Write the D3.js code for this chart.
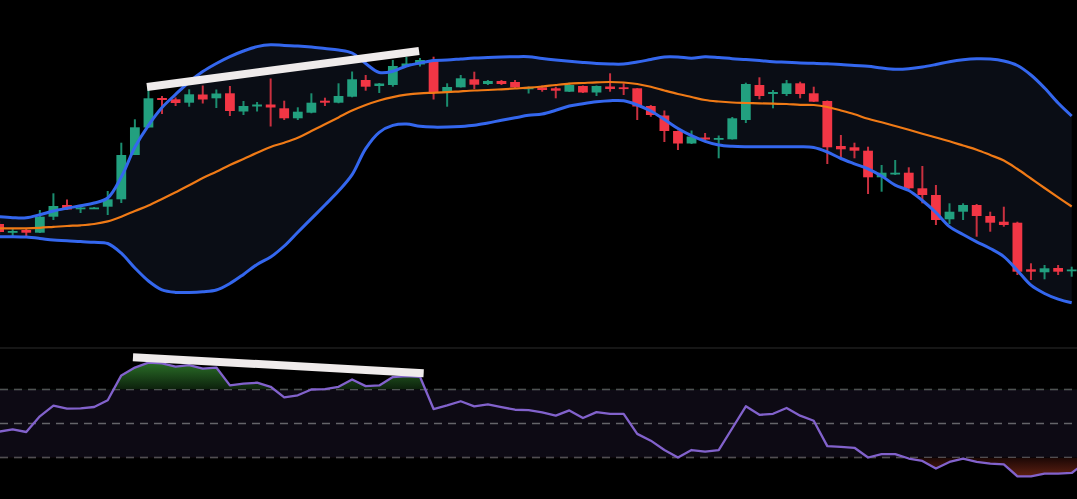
<!DOCTYPE html>
<html><head><meta charset="utf-8">
<script src="https://cdn.jsdelivr.net/npm/d3@7/dist/d3.min.js"></script>
<style>html,body{margin:0;padding:0;background:#000;overflow:hidden}svg{display:block}</style>
</head><body><svg id="c" width="1077" height="499"></svg>
<script>
// ---- Candles (price units) ----
const opens  = [76,68,70,67.3,83.3,95,90.7,91.3,93.3,100.7,145,172.5,202,200.7,197.3,205.5,201.7,206.7,188.5,193.5,195.5,191.7,181.7,187.3,199.3,197.3,203.3,220,214,215,234,235.5,240,207.3,212.7,220.7,216,219,218,211.5,212.7,211.7,208.3,214,207.5,213.5,212.7,211.7,194,184.5,169,156.5,162.5,160.5,160.7,180,215,206,206,216.7,206.7,199,154,152.7,149.3,122.7,126,127.3,111.7,105,80.7,88.3,95,84,78.3,77.3,30.7,27.7,32,29];
const highs  = [79,71,71,90,106.7,100.5,94,93,109,157.3,180.7,216,204,202.5,210.7,214.5,210.5,214,199,198,221.5,199.3,192.7,206.7,202.3,216.7,228.5,225,217,240,243,242,243.3,216.7,225,228.3,220,220,220,213.5,214.5,213.3,217.3,214.5,214.5,226.7,216.7,212,195,189.5,169.5,169.5,167,164.5,183,217.3,222.7,210,220,218.3,213.3,199.5,165,157.3,153.3,135,140,132.7,134,115,96.7,96.7,96,88.3,93.3,78.3,36.7,35,35,33.3];
const lows   = [66,63,63,67,80,90,87,91,85,97,145,172,186,194,193.3,196.5,192,184,185,188.5,173.5,180,180,186.7,194,196.7,202.7,209.3,207,213.3,233.5,233.5,200.5,193.3,212.5,211,215,215,212,206.5,208.3,201.7,208,207,204,208.3,205,180,183.3,158,150,156,159.5,141.7,160.5,177,200.7,191.7,204,201.7,198,136,141.7,141.7,106,108.3,125,111,96.7,75,76,80,63.3,68.3,73.3,25,20,20.7,25,23.3];
const closes = [68,69,67.3,83.3,94,90.5,92.5,92.5,100.7,145,172.7,201.7,200,197,205.7,200.5,206.5,189,194,195.5,192.5,181.7,188.3,197.3,197.3,204,220.7,213.3,216.5,234,236.5,240,207.3,213,221.7,215.3,219,216,212.5,212.5,210,209.3,215,207.5,214,211,211.7,193.5,185,169,156.5,163.5,160.5,162,181.7,216,204,208,216.7,206,198.3,152.7,150.7,149.3,122.7,127.3,127.3,111.7,105,80,88.3,95,84,77.3,75,28.3,28.3,31.7,28.3,30.5];

// ---- Bollinger bands (price units) ----
const bbUpper = [83.3,82.3,82.2,85.3,89,91.8,94.3,97,102,123,152.7,174.7,192.5,205.6,218,228.4,236.5,243.4,249,253.4,255.3,254.5,254,253,251.5,250,247,236.5,227.5,228.7,234,237,239.5,240,241,242,242.5,243,243.3,243.3,241.5,240,238.7,237.5,236.5,236,236,238,240.5,243,243,241.8,243.3,242.5,241.3,240.5,239.5,238.3,237.7,237,236.7,236.3,235.5,234.5,233.8,232,230.8,231.3,233,235.5,238.3,240.3,241.3,241,239,234.5,225,212,197,184];
const bbBasis = [71.7,71.7,71.7,72.2,73.1,74,74.7,76,78.6,83.3,89,94.4,101,107.8,114.7,122,128.2,135,141,147.2,153,157.3,162.3,169,175.8,182.6,189.4,195,199.5,202.9,205.3,206.7,207.2,207.8,208.7,209.5,210,210.7,211.5,212.3,213.5,215,216.3,217,217.7,218,217.5,216,213.2,209.5,206,203,200,198.5,197.5,197,196.6,196.3,196,195.2,195,193,189.5,185.7,181.2,177.7,174,170.2,166.3,162.5,158.7,154.5,150.3,145,139.5,131,121.5,112,102.7,93.5];
const bbLower = [63.3,63.3,62.9,61.6,59.9,59.3,58.4,57.7,56.5,46.8,32,19,10.1,7.6,7.6,8.3,10,16.5,25.6,35.6,43,54,67.8,81.4,95,108.9,125.3,151.4,167.7,174.6,176,173.7,172.9,173,173.6,174.8,177.1,179.7,182.2,184.7,186,189.7,194,196.3,198.2,199.3,199.2,195,189,180.5,171.5,164.3,158.7,155,153.7,153.3,153.3,153.3,153.3,153.3,152.5,148,141.5,136.2,131.2,124,114.8,109.5,99.5,87.5,73.4,65.5,58.2,51.5,43.4,29.5,14.8,6.5,0.8,-2.8];

// ---- RSI ----
const rsi = [45.2,46.6,45.0,54.2,60.5,58.7,58.9,59.7,63.7,78.3,82.9,85.8,85.4,83.5,84.3,82.3,82.9,72.4,73.4,74.0,71.6,65.4,66.6,70.0,70.2,71.6,75.9,72.0,72.4,77.3,77.9,77.5,58.5,60.7,63.1,60.1,61.3,59.7,58.1,57.9,56.5,54.6,57.7,53.2,56.7,55.7,55.7,43.9,39.9,34.4,30.0,34.4,33.4,34.4,47.2,60.1,55.1,55.7,59.1,54.6,51.6,36.7,36.3,35.7,30.0,32.0,32.0,29.4,28.0,23.5,27.4,29.4,27.4,26.4,26.0,18.9,18.9,20.5,20.5,20.9,27];
const rsiLevels = [70,50,30];

// ---- Drawn trend lines (candle index, value) ----
const priceTrendIdx = [10.89,30.93];
const priceTrendVal = [213,249];
const rsiTrendIdx = [9.86,31.27];
const rsiTrendVal = [89,79.6];

const W = 1077, H = 499;
const n = opens.length;
const x = d3.scaleLinear().domain([0, n-1]).range([-0.9, 1071.7]);
const step = x(1) - x(0);
const bodyW = step * 0.72;
const y = d3.scaleLinear().domain([0,300]).range([300,0]);
const ry = d3.scaleLinear().domain([30,70]).range([457.5,389.5]);

const svg = d3.select('#c');
svg.append('rect').attr('width',W).attr('height',H).attr('fill','#000');
const defs = svg.append('defs');
defs.append('clipPath').attr('id','mainClip').append('rect').attr('x',0).attr('y',0).attr('width',W).attr('height',346);
defs.append('clipPath').attr('id','rsiClip').append('rect').attr('x',0).attr('y',349).attr('width',W).attr('height',H-349);
defs.append('clipPath').attr('id','obClip').append('rect').attr('x',0).attr('y',0).attr('width',W).attr('height',ry(70));
defs.append('clipPath').attr('id','osClip').append('rect').attr('x',0).attr('y',ry(30)).attr('width',W).attr('height',H-ry(30));
const gG = defs.append('linearGradient').attr('id','gOB').attr('gradientUnits','userSpaceOnUse')
  .attr('x1',0).attr('x2',0).attr('y1',ry(88)).attr('y2',ry(70));
gG.append('stop').attr('offset',0).attr('stop-color','#2f7a2c');
gG.append('stop').attr('offset',1).attr('stop-color','#0c200c');
const gR = defs.append('linearGradient').attr('id','gOS').attr('gradientUnits','userSpaceOnUse')
  .attr('x1',0).attr('x2',0).attr('y1',ry(30)).attr('y2',ry(17));
gR.append('stop').attr('offset',0).attr('stop-color','#1a0705');
gR.append('stop').attr('offset',1).attr('stop-color','#6a2414');

const idx = d3.range(n);
const main = svg.append('g').attr('clip-path','url(#mainClip)');

// band fill
main.append('path').datum(idx)
  .attr('d', d3.area().x(i=>x(i)).y0(i=>y(bbLower[i])).y1(i=>y(bbUpper[i])).curve(d3.curveCatmullRom.alpha(0.5)))
  .attr('fill','#0a0d15');

// candles
const up = '#22a07f', dn = '#f23645';
const cg = main.append('g');
cg.selectAll('line.wick').data(idx).join('line').attr('class','wick')
  .attr('x1',i=>x(i)).attr('x2',i=>x(i))
  .attr('y1',i=>y(highs[i])).attr('y2',i=>y(lows[i]))
  .attr('stroke',i=>closes[i]>=opens[i]?'#1b8d6f':'#c9303f').attr('stroke-width',2);
cg.selectAll('rect.body').data(idx).join('rect').attr('class','body')
  .attr('x',i=>x(i)-bodyW/2).attr('width',bodyW)
  .attr('y',i=>y(Math.max(opens[i],closes[i])))
  .attr('height',i=>Math.max(1.8, Math.abs(y(opens[i])-y(closes[i]))))
  .attr('fill',i=>closes[i]>=opens[i]?up:dn);

// band lines
const ln = arr => d3.line().x(i=>x(i)).y(i=>y(arr[i])).curve(d3.curveCatmullRom.alpha(0.5));
main.append('path').datum(idx).attr('d',ln(bbBasis)).attr('fill','none').attr('stroke','#f07a16').attr('stroke-width',2.2);
main.append('path').datum(idx).attr('d',ln(bbUpper)).attr('fill','none').attr('stroke','#3467ee').attr('stroke-width',3);
main.append('path').datum(idx).attr('d',ln(bbLower)).attr('fill','none').attr('stroke','#3467ee').attr('stroke-width',3);

// trend line
main.append('line')
  .attr('x1',x(priceTrendIdx[0])).attr('y1',y(priceTrendVal[0]))
  .attr('x2',x(priceTrendIdx[1])).attr('y2',y(priceTrendVal[1]))
  .attr('stroke','#efebeb').attr('stroke-width',8);

// separator
svg.append('line').attr('x1',0).attr('x2',W).attr('y1',348).attr('y2',348).attr('stroke','#1e1e1e').attr('stroke-width',1.5);

// RSI panel
const rg = svg.append('g').attr('clip-path','url(#rsiClip)');
rg.append('rect').attr('x',0).attr('width',W).attr('y',ry(70)).attr('height',ry(30)-ry(70)).attr('fill','#0d0a14');
rg.selectAll('line.lvl').data(rsiLevels).join('line').attr('class','lvl')
  .attr('x1',0).attr('x2',W).attr('y1',d=>ry(d)).attr('y2',d=>ry(d))
  .attr('stroke','#646469').attr('stroke-width',1.3).attr('stroke-dasharray','8,6');
const ridx = d3.range(rsi.length);
rg.append('path').datum(ridx).attr('clip-path','url(#obClip)')
  .attr('d', d3.area().x(i=>x(i)).y0(ry(70)).y1(i=>ry(rsi[i])))
  .attr('fill','url(#gOB)');
rg.append('path').datum(ridx).attr('clip-path','url(#osClip)')
  .attr('d', d3.area().x(i=>x(i)).y0(ry(30)).y1(i=>ry(rsi[i])))
  .attr('fill','url(#gOS)');
rg.append('path').datum(ridx)
  .attr('d', d3.line().x(i=>x(i)).y(i=>ry(rsi[i])))
  .attr('fill','none').attr('stroke','#8262cc').attr('stroke-width',2.3).attr('stroke-linejoin','round');
rg.append('line')
  .attr('x1',x(rsiTrendIdx[0])).attr('y1',ry(rsiTrendVal[0]))
  .attr('x2',x(rsiTrendIdx[1])).attr('y2',ry(rsiTrendVal[1]))
  .attr('stroke','#efebeb').attr('stroke-width',8);
</script>
</body></html>
